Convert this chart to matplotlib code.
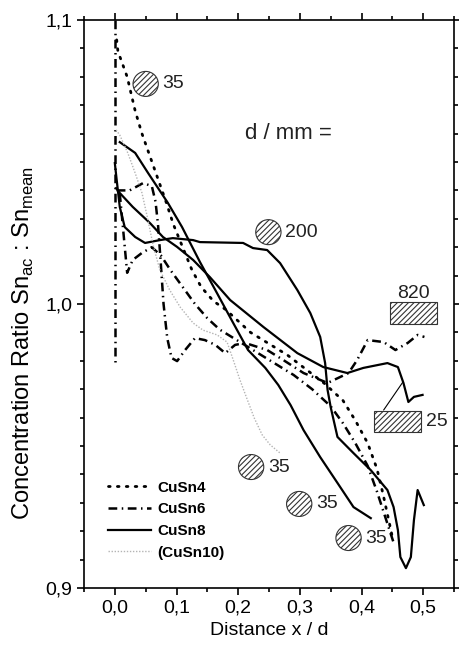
import numpy as np
import matplotlib
matplotlib.use('Agg')
from matplotlib import pyplot as plt
from matplotlib.patches import Ellipse, Rectangle
from matplotlib.ticker import MultipleLocator, FuncFormatter

plt.rcParams['font.family'] = ['Liberation Sans', 'DejaVu Sans']
plt.rcParams['hatch.linewidth'] = 0.8

# CuSn4, 35 mm (dotted)
sn4_x = [0.003, 0.005, 0.02, 0.033, 0.044, 0.057, 0.07, 0.083, 0.095, 0.11, 0.125, 0.14, 0.16,
         0.18, 0.2, 0.22, 0.25, 0.28, 0.31, 0.34, 0.37, 0.39, 0.41, 0.425, 0.435, 0.443, 0.45]
sn4_y = [1.093, 1.089, 1.080, 1.068, 1.060, 1.052, 1.044, 1.036, 1.028, 1.020, 1.012, 1.006, 1.001,
         0.998, 0.994, 0.990, 0.986, 0.982, 0.977, 0.972, 0.966, 0.959, 0.951, 0.942, 0.933, 0.925, 0.918]

# CuSn6, edge reading at x = 0
sn6e_x = [0.0, 0.0]
sn6e_y = [1.100, 0.978]

# CuSn6, 820 mm
sn6a_x = [0.003, 0.024, 0.046, 0.060, 0.066, 0.070, 0.074, 0.079, 0.085, 0.092, 0.101, 0.114, 0.130,
          0.146, 0.163, 0.179, 0.195, 0.211, 0.247, 0.273, 0.306, 0.345, 0.379, 0.393, 0.410, 0.436,
          0.455, 0.475, 0.491, 0.502]
sn6a_y = [1.040, 1.040, 1.0426, 1.0415, 1.036, 1.028, 1.016, 1.000, 0.988, 0.981, 0.9799, 0.9838,
          0.988, 0.9873, 0.9856, 0.9827, 0.9856, 0.9863, 0.9838, 0.9803, 0.9757, 0.9722, 0.9757, 0.9803,
          0.9873, 0.9866, 0.9838, 0.9863, 0.9891, 0.9884]

# CuSn6, 35 mm
sn6b_x = [0.008, 0.014, 0.02, 0.029, 0.044, 0.06, 0.075, 0.09, 0.11, 0.13, 0.15, 0.17, 0.2, 0.23,
          0.26, 0.29, 0.32, 0.35, 0.37, 0.39, 0.41, 0.425, 0.44, 0.452]
sn6b_y = [1.039, 1.025, 1.011, 1.0155, 1.018, 1.020, 1.017, 1.012, 1.006, 1.000, 0.995, 0.991, 0.987,
          0.983, 0.979, 0.975, 0.970, 0.964, 0.958, 0.951, 0.943, 0.934, 0.924, 0.916]

# CuSn8, 35 mm
sn8a_x = [0.008, 0.033, 0.054, 0.086, 0.109, 0.138, 0.163, 0.192, 0.216, 0.244, 0.265, 0.285, 0.306,
          0.333, 0.361, 0.387, 0.415]
sn8a_y = [1.057, 1.0532, 1.0461, 1.0356, 1.0271, 1.0148, 1.0049, 0.9933, 0.9838, 0.9775, 0.9715,
          0.9644, 0.9556, 0.9461, 0.937, 0.9285, 0.9246]

# CuSn8, 200 mm
sn8b_x = [0.0, 0.003, 0.008, 0.016, 0.033, 0.049, 0.073, 0.094, 0.127, 0.138, 0.208, 0.224, 0.247,
          0.268, 0.296, 0.317, 0.333, 0.341, 0.345, 0.350, 0.361, 0.387, 0.415, 0.442, 0.452, 0.459,
          0.463, 0.472, 0.480, 0.485, 0.491, 0.501]
sn8b_y = [1.0496, 1.0437, 1.0342, 1.0271, 1.0236, 1.0215, 1.0225, 1.0232, 1.0225, 1.0218, 1.0215,
          1.0197, 1.019, 1.0144, 1.0049, 0.9968, 0.9884, 0.9792, 0.9697, 0.9637, 0.9532, 0.9475,
          0.9415, 0.9345, 0.9285, 0.9204, 0.9109, 0.907, 0.9109, 0.9239, 0.9345, 0.9292]

# CuSn8, 25 mm
sn8c_x = [0.002, 0.008, 0.029, 0.057, 0.078, 0.101, 0.127, 0.154, 0.187, 0.241, 0.296, 0.338, 0.377,
          0.403, 0.442, 0.459, 0.468, 0.476, 0.485, 0.499]
sn8c_y = [1.0408, 1.0391, 1.0342, 1.0285, 1.0236, 1.0201, 1.0155, 1.0095, 1.0014, 0.9919, 0.9827,
          0.9778, 0.9757, 0.9775, 0.9792, 0.9778, 0.9722, 0.9655, 0.9673, 0.968]

# CuSn10, 35 mm
sn10_x = [0.002, 0.008, 0.021, 0.033, 0.044, 0.052, 0.062, 0.073, 0.089, 0.106, 0.127, 0.143, 0.166,
          0.182, 0.192, 0.203, 0.215, 0.226, 0.239, 0.252, 0.268]
sn10_y = [1.0613, 1.0595, 1.0532, 1.0461, 1.0391, 1.0313, 1.0208, 1.012, 1.0049, 0.9989, 0.9933,
          0.9908, 0.9891, 0.9866, 0.9803, 0.9732, 0.9662, 0.9599, 0.9539, 0.9504, 0.9475]

# sample size markers: (x, y, label)
round_x = [0.050, 0.249, 0.221, 0.299, 0.379]
round_y = [1.0775, 1.0253, 0.9426, 0.9296, 0.9176]
round_lbl = ['35', '200', '35', '35', '35']
square_x = [0.4455, 0.4195]
square_y = [0.9930, 0.9549]
square_lbl = ['820', '25']

fig = plt.figure(figsize=(4.6, 6.54), dpi=100)
ax = fig.add_axes([0.1826, 0.1009, 0.8044, 0.8685])

dot = dict(color='black', lw=2.0, ls=(0, (0.6, 2.6)), dash_capstyle='round')
dashdot = dict(color='black', lw=1.8, ls=(0, (3.5, 1.8, 0.6, 1.8)))
solid = dict(color='black', lw=1.6)
grey = dict(color='#b4b4b4', lw=1.0, ls=(0, (1, 1.2)))

ax.plot(sn4_x, sn4_y, label='CuSn4', **dot)
ax.plot(sn6a_x, sn6a_y, label='CuSn6', **dashdot)
ax.plot(sn6b_x, sn6b_y, **dashdot)
ax.plot(sn6e_x, sn6e_y, **dashdot)
ax.plot(sn8a_x, sn8a_y, label='CuSn8', **solid)
ax.plot(sn8b_x, sn8b_y, **solid)
ax.plot(sn8c_x, sn8c_y, **solid)
ax.plot(sn10_x, sn10_y, label='(CuSn10)', **grey)

# hatched circles = round bars, hatched boxes = plates
for x, y, s in zip(round_x, round_y, round_lbl):
	ax.add_patch(Ellipse((x, y), 0.041, 0.0088, facecolor='white', edgecolor='#333333',
	                     hatch='//////', lw=0.8, zorder=5))
	ax.text(x + 0.027, y, s, fontsize=14, va='center', ha='left', color='#222222')
for x, y, s in zip(square_x, square_y, square_lbl):
	ax.add_patch(Rectangle((x, y), 0.0765, 0.0076, facecolor='white', edgecolor='#333333',
	                       hatch='//////', lw=0.8, zorder=5))
ax.text(square_x[0] + 0.038, square_y[0] + 0.0076, square_lbl[0], fontsize=14, ha='center',
        va='bottom', color='#222222')
ax.text(square_x[1] + 0.0845, square_y[1] + 0.0038, square_lbl[1], fontsize=14, ha='left',
        va='center', color='#222222')
ax.plot([0.436, 0.467], [0.9627, 0.9725], color='black', lw=0.8)

ax.text(0.211, 1.0602, 'd / mm =', fontsize=16, va='center', ha='left', color='#222222')

ax.set_xlim(-0.05, 0.55)
ax.set_ylim(0.9, 1.1)
ax.xaxis.set_major_locator(MultipleLocator(0.1))
ax.xaxis.set_minor_locator(MultipleLocator(0.05))
ax.yaxis.set_major_locator(MultipleLocator(0.1))
ax.yaxis.set_minor_locator(MultipleLocator(0.01))
ax.xaxis.set_major_formatter(FuncFormatter(lambda v, p: ('%.1f' % v).replace('.', ',')))
ax.yaxis.set_major_formatter(FuncFormatter(lambda v, p: ('%.1f' % v).replace('.', ',')))
ax.tick_params(which='both', direction='out', top=True, right=True, width=1.2, labelsize=14)
ax.tick_params(which='major', length=5)
ax.tick_params(which='minor', length=3)
for sp in ax.spines.values():
	sp.set_linewidth(1.2)

ax.set_xlabel('Distance x / d', fontsize=14)
ax.set_ylabel(r'Concentration Ratio Sn$_{\mathregular{ac}}$ : Sn$_{\mathregular{mean}}$', fontsize=17)
ax.yaxis.set_label_coords(-0.13, 0.431)

leg = ax.legend(loc='lower left', bbox_to_anchor=(0.065, 0.05), frameon=False, borderpad=0,
                borderaxespad=0, handlelength=2.8, handletextpad=0.4, labelspacing=0.5,
                prop={'weight': 'bold', 'size': 11})

fig.savefig('out.png', dpi=100)
